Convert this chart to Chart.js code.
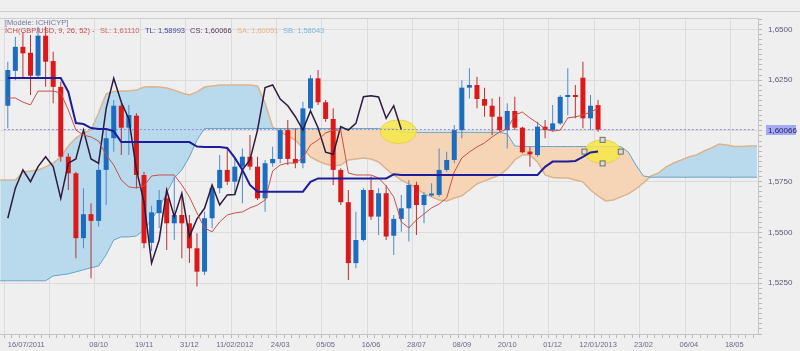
<!DOCTYPE html>
<html>
<head>
<meta charset="utf-8">
<script src="https://cdn.jsdelivr.net/npm/chart.js@4.4.1/dist/chart.umd.min.js"></script>
<style>
  html, body { margin: 0; padding: 0; background: #efefef; }
  #cadre { position: relative; width: 800px; height: 351px; overflow: hidden; background: #efefef; }
  #graph { position: absolute; left: 0; top: 0; }
  .trait { position: absolute; left: 0; height: 0; border-top: 1px solid #cdcdcd; }
  .entete { position: absolute; font: 7.5px "Liberation Sans", Arial, sans-serif; white-space: nowrap; line-height: 8px; }
</style>
</head>
<body>
<div id="cadre">
  <canvas id="graph" width="800" height="351"></canvas>
  <div class="trait" style="top:11px;width:800px"></div>
  <div class="trait" style="top:18px;width:758px"></div>
  <div class="entete" style="left:5px;top:19px;color:#7676a2">[Modèle: ICHICYP]</div>
  <div class="entete" style="left:5px;top:27px;color:#cc4a4a">ICH(GBP/USD, 9, 26, 52) -</div>
  <div class="entete" style="left:100px;top:27px;color:#d06464">SL: 1,61110</div>
  <div class="entete" style="left:145px;top:27px;color:#4444a8">TL: 1,58993</div>
  <div class="entete" style="left:190px;top:27px;color:#5a3a5e">CS: 1,60066</div>
  <div class="entete" style="left:237px;top:27px;color:#e8b585">SA: 1,60051</div>
  <div class="entete" style="left:283px;top:27px;color:#7ab9de">SB: 1,58043</div>
</div>
<script>
// bougies hebdomadaires GBP/USD, semaine 0 = 16/07/2011
var ouvertures = [1.6124,1.6296,1.6414,1.6385,1.6272,1.6469,1.6344,1.6217,1.5873,1.5791,
  1.5472,1.5590,1.5557,1.5808,1.5964,1.6124,1.6016,1.6075,1.5783,1.5449,
  1.5595,1.5668,1.5545,1.5586,1.5545,1.5422,1.5307,1.5570,1.5718,1.5808,
  1.5750,1.5824,1.5873,1.5824,1.5668,1.5841,1.5862,1.6004,1.5862,1.5841,
  1.6111,1.6259,1.6141,1.6059,1.5808,1.5649,1.5349,1.5463,1.5709,1.5578,
  1.5693,1.5484,1.5567,1.5619,1.5734,1.5635,1.5682,1.5685,1.5808,1.5857,
  1.6004,1.6213,1.6226,1.6157,1.6124,1.6070,1.6004,1.6098,1.6016,1.5898,
  1.5881,1.6021,1.6004,1.6037,1.6167,1.6174,1.6262,1.6062,1.6127];
var plusHauts = [1.6341,1.6464,1.6487,1.6472,1.6513,1.6513,1.6390,1.6242,1.5890,1.5799,
  1.5718,1.5644,1.5848,1.6004,1.6152,1.6136,1.6127,1.6087,1.5799,1.5631,
  1.5709,1.5718,1.5775,1.5676,1.5586,1.5496,1.5602,1.5734,1.5882,1.5914,
  1.5865,1.5914,1.5980,1.5873,1.5857,1.5922,1.6013,1.6054,1.6013,1.6144,
  1.6275,1.6300,1.6152,1.6111,1.5816,1.5709,1.5602,1.5718,1.5775,1.5718,
  1.5734,1.5586,1.5685,1.5758,1.5750,1.5701,1.5742,1.5914,1.5898,1.6029,
  1.6250,1.6308,1.6267,1.6213,1.6160,1.6168,1.6136,1.6168,1.6021,1.5922,
  1.6045,1.6054,1.6127,1.6177,1.6308,1.6226,1.6341,1.6177,1.6152];
var plusBas = [1.6013,1.6250,1.6260,1.6177,1.6259,1.6217,1.6136,1.5848,1.5709,1.5373,
  1.5422,1.5275,1.5529,1.5635,1.5898,1.5882,1.5882,1.5718,1.5422,1.5409,
  1.5521,1.5414,1.5463,1.5373,1.5349,1.5234,1.5291,1.5521,1.5693,1.5734,
  1.5685,1.5644,1.5808,1.5660,1.5602,1.5824,1.5841,1.5832,1.5816,1.5816,
  1.6094,1.6127,1.6045,1.5734,1.5635,1.5266,1.5324,1.5455,1.5562,1.5488,
  1.5463,1.5389,1.5504,1.5455,1.5488,1.5545,1.5676,1.5676,1.5799,1.5841,
  1.5964,1.6160,1.6111,1.6070,1.5980,1.5996,1.5914,1.6004,1.5890,1.5824,
  1.5873,1.5964,1.5996,1.6029,1.6078,1.6062,1.6013,1.6004,1.5996];
var clotures = [1.6300,1.6414,1.6382,1.6272,1.6469,1.6341,1.6217,1.5873,1.5791,1.5472,
  1.5590,1.5557,1.5808,1.5964,1.6124,1.6016,1.6078,1.5783,1.5447,1.5599,
  1.5660,1.5545,1.5586,1.5545,1.5422,1.5307,1.5570,1.5718,1.5808,1.5750,
  1.5824,1.5873,1.5824,1.5668,1.5841,1.5862,1.6004,1.5862,1.5841,1.6111,
  1.6259,1.6141,1.6059,1.5808,1.5649,1.5349,1.5463,1.5709,1.5578,1.5693,
  1.5480,1.5567,1.5619,1.5734,1.5635,1.5685,1.5687,1.5808,1.5857,1.6004,
  1.6213,1.6226,1.6157,1.6124,1.6070,1.6004,1.6098,1.6016,1.5895,1.5885,
  1.6021,1.6004,1.6037,1.6168,1.6173,1.6167,1.6062,1.6124,1.60066];

// lignes de l'Ichimoku
var sl = [1.6162,1.6162,1.6142,1.6128,1.6196,1.6196,1.6196,1.6187,1.6103,1.6004,
  1.5980,1.5970,1.5950,1.5882,1.5832,1.5758,1.5724,1.5719,1.5729,1.5778,
  1.5783,1.5783,1.5783,1.5734,1.5675,1.5596,1.5522,1.5503,1.5552,1.5586,
  1.5596,1.5601,1.5621,1.5635,1.5660,1.5803,1.5832,1.5842,1.5842,1.5867,
  1.5931,1.5955,1.5990,1.6004,1.6004,1.5793,1.5783,1.5783,1.5783,1.5768,
  1.5729,1.5675,1.5552,1.5522,1.5562,1.5591,1.5621,1.5640,1.5670,1.5798,
  1.5867,1.5896,1.5921,1.5941,1.5970,1.5995,1.6009,1.6078,1.6093,1.6064,
  1.6039,1.6009,1.5999,1.6004,1.6064,1.6069,1.6078,1.6093,1.6111];
var tl = [1.6260,1.6260,1.6260,1.6260,1.6260,1.6260,1.6260,1.6260,1.6192,1.6039,
  1.6034,1.6014,1.6009,1.6009,1.5999,1.5945,1.5945,1.5945,1.5945,1.5945,
  1.5945,1.5945,1.5945,1.5945,1.5945,1.5923,1.5921,1.5921,1.5921,1.5916,
  1.5867,1.5808,1.5734,1.5701,1.5701,1.5701,1.5701,1.5701,1.5701,1.5701,
  1.5749,1.5766,1.5766,1.5766,1.5766,1.5766,1.5766,1.5766,1.5766,1.5766,
  1.5766,1.5786,1.5783,1.5783,1.5783,1.5783,1.5783,1.5783,1.5783,1.5783,
  1.5783,1.5783,1.5783,1.5783,1.5783,1.5783,1.5783,1.5783,1.5783,1.5783,
  1.5783,1.5823,1.5849,1.5849,1.5849,1.5852,1.5872,1.5894,1.5899];
// nuage (déjà décalé de 26 semaines vers l'avant), semaines -1 à 99
var ssa = [1.5758,
  1.5758,1.5758,1.5798,1.5803,1.5808,1.5823,1.5842,1.5872,1.5926,1.5965,
  1.5990,1.6004,1.6088,1.6182,1.6194,1.6196,1.6196,1.6201,1.6216,1.6218,
  1.6216,1.6211,1.6201,1.6187,1.6177,1.6192,1.6216,1.6221,1.6226,1.6226,
  1.6226,1.6226,1.6226,1.6221,1.6137,1.6019,1.5995,1.5975,1.5955,1.5916,
  1.5872,1.5852,1.5837,1.5827,1.5832,1.5857,1.5862,1.5867,1.5862,1.5847,
  1.5813,1.5783,1.5758,1.5739,1.5719,1.5690,1.5675,1.5660,1.5655,1.5670,
  1.5680,1.5709,1.5739,1.5754,1.5768,1.5783,1.5813,1.5857,1.5882,1.5882,
  1.5847,1.5783,1.5771,1.5768,1.5768,1.5758,1.5749,1.5709,1.5680,1.5655,
  1.5660,1.5675,1.5690,1.5714,1.5744,1.5778,1.5793,1.5823,1.5842,1.5857,
  1.5872,1.5882,1.5901,1.5916,1.5936,1.5931,1.5923,1.5923,1.5926,1.5926];
var ssb = [1.5262,
  1.5262,1.5262,1.5262,1.5262,1.5262,1.5262,1.5286,1.5291,1.5296,1.5306,
  1.5316,1.5326,1.5335,1.5390,1.5463,1.5478,1.5478,1.5483,1.5513,1.5562,
  1.5621,1.5695,1.5768,1.5808,1.5872,1.5955,1.6012,1.6012,1.6012,1.6012,
  1.6012,1.6012,1.6012,1.6012,1.6012,1.6012,1.6012,1.6012,1.6012,1.6012,
  1.6012,1.6012,1.6012,1.6012,1.6012,1.6012,1.6012,1.6012,1.6012,1.6012,
  1.6012,1.6012,1.5995,1.5993,1.5993,1.5993,1.5993,1.5993,1.5993,1.5993,
  1.5993,1.5993,1.5993,1.5993,1.5993,1.5993,1.5985,1.5926,1.5923,1.5923,
  1.5923,1.5923,1.5923,1.5923,1.5923,1.5923,1.5923,1.5923,1.5923,1.5923,
  1.5923,1.5923,1.5896,1.5832,1.5778,1.5772,1.5772,1.5772,1.5772,1.5772,
  1.5772,1.5772,1.5772,1.5772,1.5772,1.5772,1.5772,1.5772,1.5772,1.5772];
var decalage = 26; // le CS est la clôture reportée 26 semaines en arrière

// graduations de l'axe des dates
var semainesAxe = [0, 6, 12, 18, 24, 30, 36, 42, 48, 54, 60, 66, 72, 78, 84, 90, 96];
var etiquettesAxe = ['16/07/2011', '', '08/10', '19/11', '31/12', '11/02/2012', '24/03', '05/05',
  '16/06', '28/07', '08/09', '20/10', '01/12', '12/01/2013', '23/02', '06/04', '18/05'];

var xMin = -0.523, xMax = 98.63;
var dernier = clotures[clotures.length - 1];

function points(serie, depart) {
  return serie.map(function(v, i) { return {x: i + (depart || 0), y: v}; });
}
function hausse(i) { return clotures[i] >= ouvertures[i]; }

var corps = clotures.map(function(c, i) { return {x: i, y: [ouvertures[i], c]}; });
var meches = clotures.map(function(c, i) { return {x: i, y: [plusBas[i], plusHauts[i]]}; });
var cs = clotures.slice(decalage).map(function(c, i) { return {x: i, y: c}; });

// ellipses jaunes (semaine, cours)
var reperes = [
  {semaine: 51.6, cours: 1.5996, poignees: false},
  {semaine: 78.6, cours: 1.5898, poignees: true}
];

var surlignage = {
  id: 'surlignage',
  beforeDatasetDraw: function(chart, args) {
    if (args.index !== 5) return; // juste avant les mèches
    var ctx = chart.ctx, sx = chart.scales.x, sy = chart.scales.y;
    reperes.forEach(function(r) {
      var cx = sx.getPixelForValue(r.semaine), cy = sy.getPixelForValue(r.cours);
      var rx = sx.getPixelForValue(r.semaine + 2.4) - cx;
      var ry = sy.getPixelForValue(r.cours - 0.0058) - cy;
      ctx.save();
      ctx.beginPath();
      ctx.ellipse(cx, cy, rx, ry, 0, 0, 2 * Math.PI);
      ctx.fillStyle = 'rgba(246, 232, 72, 0.85)';
      ctx.fill();
      ctx.strokeStyle = 'rgba(226, 208, 70, 0.9)';
      ctx.lineWidth = 1;
      ctx.stroke();
      if (r.poignees) {
        [[cx, cy - ry], [cx, cy + ry], [cx - rx, cy], [cx + rx, cy]].forEach(function(p) {
          ctx.fillStyle = '#dcdcdc';
          ctx.fillRect(p[0] - 2.5, p[1] - 2.5, 5, 5);
          ctx.strokeStyle = '#6e6e6e';
          ctx.strokeRect(p[0] - 2.5, p[1] - 2.5, 5, 5);
        });
      }
      ctx.restore();
    });
  },
  afterDraw: function(chart) {
    // étiquette du dernier cours sur l'axe de droite
    var ctx = chart.ctx, sx = chart.scales.x, sy = chart.scales.y;
    var y = Math.round(sy.getPixelForValue(dernier));
    ctx.save();
    ctx.fillStyle = '#a3a9f2';
    ctx.fillRect(sx.right + 8, y - 5, 30, 10);
    ctx.fillStyle = '#1e1e66';
    ctx.font = '8px "Liberation Sans", Arial, sans-serif';
    ctx.textBaseline = 'middle';
    ctx.fillText(dernier.toFixed(5).replace('.', ','), sx.right + 10, y + 0.5);
    ctx.restore();
  }
};

var bleu = '#1c6cc0', rouge = '#dc1818';

var datasets = [
  {type: 'line', label: 'TL', data: points(tl), borderColor: '#1e1e9a', borderWidth: 2, pointRadius: 0, order: 1},
  {type: 'line', label: 'SL', data: points(sl), borderColor: '#c8504a', borderWidth: 1, pointRadius: 0, order: 2},
  {type: 'line', label: 'CS', data: cs, borderColor: '#2e1a3c', borderWidth: 1.5, pointRadius: 0, order: 3},
  {type: 'bar', label: 'corps', data: corps, grouped: false, maxBarThickness: 5, minBarLength: 2,
    backgroundColor: function(c) { return hausse(c.dataIndex) ? bleu : rouge; }, order: 4},
  {type: 'bar', label: 'mèches', data: meches, grouped: false, maxBarThickness: 1,
    backgroundColor: function(c) { return hausse(c.dataIndex) ? '#4d8acb' : '#b83232'; }, order: 5},
  {type: 'line', label: 'cours', data: [{x: xMin, y: dernier}, {x: xMax, y: dernier}],
    borderColor: '#8c8ce2', borderWidth: 1, borderDash: [2, 2], pointRadius: 0, order: 6},
  {type: 'line', label: 'SB', data: points(ssb, -1), borderColor: '#62a4cc', borderWidth: 1, pointRadius: 0, order: 7},
  {type: 'line', label: 'SA', data: points(ssa, -1), borderColor: '#dbb48e', borderWidth: 1.5, pointRadius: 0, order: 8,
    fill: {target: 6, above: '#b9daed', below: '#f6d5b6'}}
];

var chart = new Chart(document.getElementById('graph'), {
  type: 'line',
  data: {datasets: datasets},
  options: {
    responsive: false,
    animation: false,
    events: [],
    layout: {padding: {top: 18, left: 0, right: 0, bottom: 0}},
    plugins: {legend: {display: false}, tooltip: {enabled: false}},
    scales: {
      x: {
        type: 'linear', min: xMin, max: xMax,
        afterFit: function(a) { a.height = 17; },
        border: {color: '#c6c6c6'},
        grid: {
          color: function(c) { return c.tick && c.tick.value % 6 === 0 ? '#dcdcdc' : 'rgba(0,0,0,0)'; },
          tickColor: '#b9b9b9', tickLength: 4
        },
        ticks: {
          stepSize: 1, includeBounds: false, autoSkip: false, maxRotation: 0, align: 'inner', padding: 2,
          color: '#6a6a86', font: {family: '"Liberation Sans", Arial, sans-serif', size: 7.5},
          callback: function(v) { var i = semainesAxe.indexOf(v); return i >= 0 ? etiquettesAxe[i] : ''; }
        }
      },
      y: {
        position: 'right', min: 1.5000, max: 1.6556,
        afterFit: function(a) { a.width = 42; },
        border: {color: '#c6c6c6'},
        grid: {
          color: function(c) { return c.tick && Math.round(c.tick.value * 10000) % 250 === 0 ? '#dcdcdc' : 'rgba(0,0,0,0)'; },
          tickColor: '#b9b9b9', tickLength: 4
        },
        ticks: {
          stepSize: 0.0025, includeBounds: false, autoSkip: false, padding: 6,
          color: '#5a5a78', font: {family: '"Liberation Sans", Arial, sans-serif', size: 8},
          callback: function(v) {
            var n = Math.round(v * 10000);
            if (n % 250 !== 0 || n === 16000 || n === 15000) return '';
            return (n / 10000).toFixed(4).replace('.', ',');
          }
        }
      }
    }
  },
  plugins: [surlignage]
});
</script>
</body>
</html>
